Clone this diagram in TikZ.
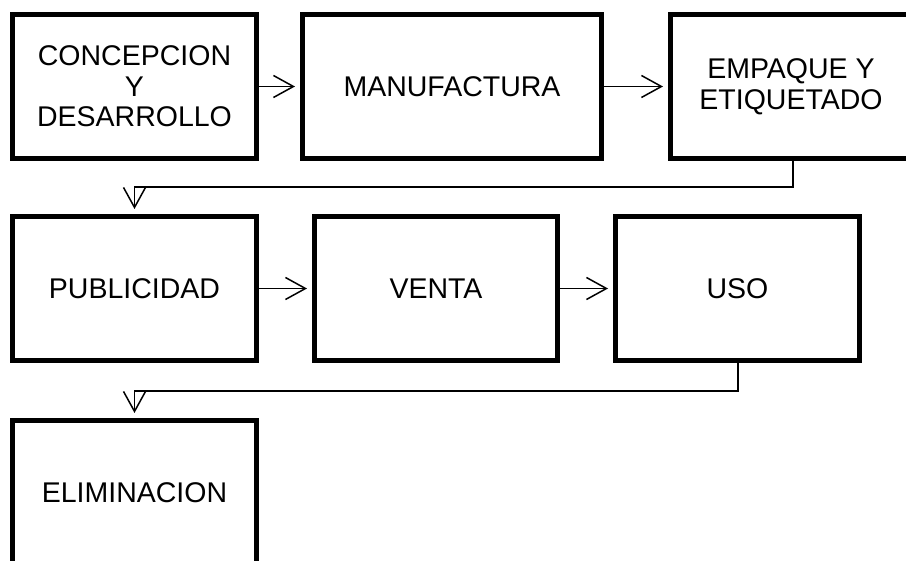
\documentclass[tikz,border=0pt]{standalone}
\usepackage{fontspec}
\setmainfont{Liberation Sans}
\usetikzlibrary{arrows.meta}
\tikzset{
  box/.style={draw, line width=5pt, rectangle, minimum width=244pt, minimum height=144pt,
    align=center, font=\fontsize{28.5}{30.5}\selectfont, inner sep=0pt},
  conn/.style={line width=1.5pt, -{Straight Barb[length=20pt,width=22pt,line width=1.5pt]}, shorten >=5pt}
}
\begin{document}
\begin{tikzpicture}[x=1pt,y=-1pt]
\clip (0,0) rectangle (906,561);
\fill[white] (0,0) rectangle (906,561);
\node[box] (B1) at (134.5,86.5) {CONCEPCION\\Y\\DESARROLLO};
\node[box, minimum width=299pt] (B2) at (452,86.5) {MANUFACTURA};
\node[box, minimum width=241pt] (B3) at (791,86.5) {EMPAQUE Y\\ETIQUETADO};
\node[box] (B4) at (134.5,288.5) {PUBLICIDAD};
\node[box, minimum width=243pt] (B5) at (436,288.5) {VENTA};
\node[box] (B6) at (737.5,288.5) {USO};
\node[box] (B7) at (134.5,492.5) {ELIMINACION};
\coordinate (c1) at (793,187);
\coordinate (c2) at (134.5,187);
\coordinate (c3) at (738,391);
\coordinate (c4) at (134.5,391);
\draw[conn] (B1.east) -- (B2.west);
\draw[conn] (B2.east) -- (B3.west);
\draw[conn] (B3.south -| c1) -- (c1) -- (c2) -- (B4.north);
\draw[conn] (B4.east) -- (B5.west);
\draw[conn] (B5.east) -- (B6.west);
\draw[conn] (B6.south -| c3) -- (c3) -- (c4) -- (B7.north);
\end{tikzpicture}
\end{document}
